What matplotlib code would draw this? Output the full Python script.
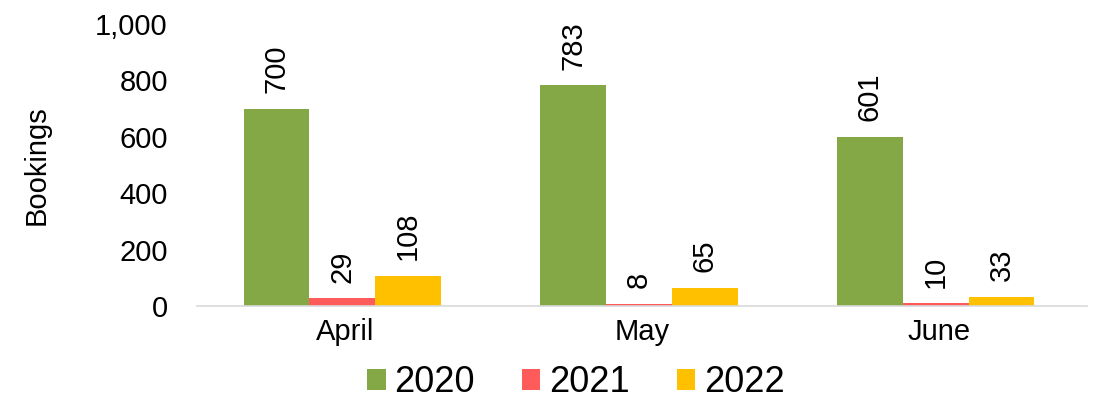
import matplotlib.pyplot as plt
import numpy as np

plt.rcParams['font.family'] = ['Liberation Sans', 'DejaVu Sans']

months = ["April", "May", "June"]
years = ["2020", "2021", "2022"]
bookings_2020 = [700, 783, 601]
bookings_2021 = [29, 8, 10]
bookings_2022 = [108, 65, 33]
colors = ["#84A846", "#FF5B5B", "#FFC000"]

fig = plt.figure(figsize=(10.94, 4.03), dpi=100)
ax = fig.add_axes([197 / 1094, 1 - 306 / 403, 890 / 1094, 282 / 403])

x = np.arange(len(months))
w = 0.222
series = [bookings_2020, bookings_2021, bookings_2022]
handles = []
for i, (vals, c, yr) in enumerate(zip(series, colors, years)):
    bars = ax.bar(x + (i - 1) * w - 0.01, vals, w, color=c, label=yr)
    ax.bar_label(bars, labels=[f"{v:,}" for v in vals], rotation=90,
                 padding=11, fontsize=21)
    handles.append(bars)

ax.set_xlim(-0.5, 2.5)
ax.set_ylim(0, 1000)
ax.set_yticks(range(0, 1001, 200))
ax.set_yticklabels([f"{v:,}" for v in range(0, 1001, 200)])
ax.set_xticks(x)
ax.set_xticklabels(months)
ax.tick_params(axis="both", length=0, labelsize=21)
ax.tick_params(axis="y", pad=21)
ax.tick_params(axis="x", pad=9)
for s in ["top", "right", "left"]:
    ax.spines[s].set_visible(False)
ax.spines["bottom"].set_color("#D9D9D9")
ax.spines["bottom"].set_linewidth(1.2)
ax.set_ylabel("Bookings", fontsize=21, labelpad=32)

# legend row under the axes
fig.legend(handles=handles, labels=years, loc="center", ncol=3,
           bbox_to_anchor=(576 / 1094, 1 - 383 / 403), frameon=False,
           fontsize=26, handlelength=0.5, handleheight=0.5,
           handletextpad=0.25, columnspacing=1.3)

fig.savefig("out.png", dpi=100)
